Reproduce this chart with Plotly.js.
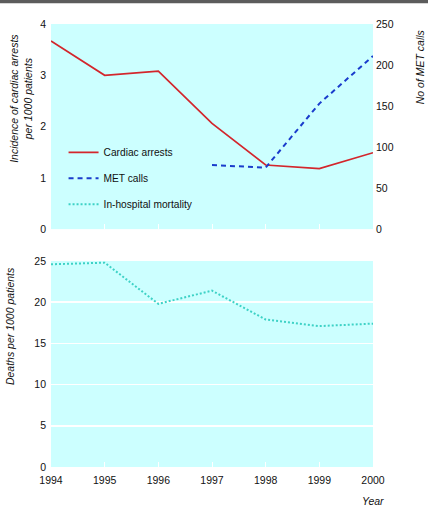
<!DOCTYPE html>
<html><head><meta charset="utf-8">
<script src="https://cdn.plot.ly/plotly-3.0.1.min.js"></script>
<style>body{margin:0;padding:0;background:#fff}#chart{width:428px;height:508px}</style>
</head><body><div id="chart"></div>
<script>
const years = [1994, 1995, 1996, 1997, 1998, 1999, 2000];
const cardiacArrests = [3.67, 3.0, 3.08, 2.06, 1.25, 1.18, 1.49];
const metYears = [1997, 1998, 1999, 2000];
const metCalls = [78, 75, 153, 211];
const mortality = [24.6, 24.8, 19.8, 21.4, 17.9, 17.1, 17.4];
const leftTicks = [0, 1, 2, 3, 4];
const rightTicks = [0, 50, 100, 150, 200, 250];
const deathTicks = [0, 5, 10, 15, 20, 25];

const FONT = 'Liberation Sans, Arial, sans-serif';
const tf = {family: FONT, size: 10.5, color: '#111'};
const lf = {family: FONT, size: 10.2, color: '#111'};

const traces = [
  {x: years, y: cardiacArrests, xaxis: 'x2', yaxis: 'y2', mode: 'lines', name: 'Cardiac arrests',
   legendgroup: 'a', line: {color: '#d3262c', width: 1.7}},
  {x: metYears, y: metCalls, xaxis: 'x2', yaxis: 'y3', mode: 'lines', name: 'MET calls',
   legendgroup: 'b', line: {color: '#1a3ccc', width: 2, dash: '5px,4px'}},
  {x: years, y: mortality, xaxis: 'x', yaxis: 'y', mode: 'lines', name: 'In-hospital mortality',
   legendgroup: 'c', line: {color: '#3ed2c6', width: 2, dash: '2px,2px'}}
];

const xcommon = {range: [1994, 2000], tickvals: years, ticks: 'inside', ticklen: 5, tickcolor: '#ffffff',
  tickwidth: 1, showgrid: false, zeroline: false, showline: false, fixedrange: true, tickfont: tf};

const layout = {
  width: 428, height: 508,
  margin: {l: 51, r: 55, t: 24, b: 41},
  paper_bgcolor: '#ffffff', plot_bgcolor: '#ccffff',
  showlegend: true,
  legend: {x: 0.039, y: 0.743, xanchor: 'left', yanchor: 'top', bgcolor: 'rgba(0,0,0,0)',
    font: lf, tracegroupgap: 7, itemwidth: 30},
  xaxis: Object.assign({}, xcommon, {anchor: 'y', ticklabelstandoff: 5}),
  xaxis2: Object.assign({}, xcommon, {anchor: 'y2', showticklabels: false}),
  yaxis: {domain: [0, 0.465], range: [0, 25], tickvals: deathTicks, showgrid: true, gridcolor: '#ffffff',
    gridwidth: 1.5, zeroline: false, showline: false, ticks: '', tickfont: tf, ticklabelstandoff: 4, fixedrange: true},
  yaxis2: {domain: [0.537, 1], range: [0, 4], tickvals: leftTicks, showgrid: false, zeroline: false,
    showline: false, ticks: '', tickfont: tf, ticklabelstandoff: 4, anchor: 'x2', fixedrange: true},
  yaxis3: {overlaying: 'y2', side: 'right', anchor: 'x2', range: [0, 250], tickvals: rightTicks, showgrid: false,
    zeroline: false, showline: false, ticks: '', tickfont: tf, ticklabelstandoff: 2, fixedrange: true},
  shapes: [
    {type: 'rect', xref: 'paper', yref: 'paper', x0: -0.2, x1: 1.3, y0: 1.047, y1: 1.07,
     fillcolor: '#5c5c5c', line: {width: 0}}
  ],
  annotations: [
    {text: '<i>Incidence of cardiac arrests<br>per 1000 patients</i>', xref: 'paper', yref: 'paper',
     x: -0.092, y: 0.982, xanchor: 'center', yanchor: 'top', textangle: -90, showarrow: false,
     font: tf, align: 'center'},
    {text: '<i>No of MET calls</i>', xref: 'paper', yref: 'paper', x: 1.145, y: 0.993,
     xanchor: 'center', yanchor: 'top', textangle: -90, showarrow: false, font: tf},
    {text: '<i>Deaths per 1000 patients</i>', xref: 'paper', yref: 'paper', x: -0.127, y: 0.456,
     xanchor: 'center', yanchor: 'top', textangle: -90, showarrow: false, font: tf},
    {text: '<i>Year</i>', xref: 'paper', yref: 'paper', x: 1.0, y: -0.059,
     xanchor: 'center', yanchor: 'top', showarrow: false, font: tf}
  ]
};

Plotly.newPlot('chart', traces, layout, {displayModeBar: false, staticPlot: true});
</script></body></html>
